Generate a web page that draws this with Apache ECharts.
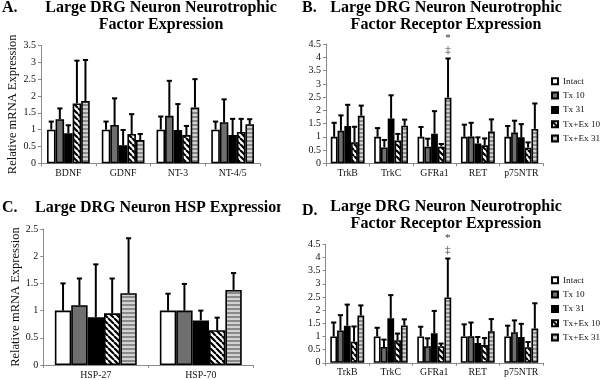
<!DOCTYPE html>
<html><head><meta charset="utf-8">
<script src="https://cdn.jsdelivr.net/npm/echarts@6/dist/echarts.min.js"></script>
<style>html,body{margin:0;padding:0;background:#fff}#c{width:600px;height:380px}</style>
</head><body><div id="c"></div>
<script>
// ---------- data ----------
const groups = ['Intact', 'Tx 10', 'Tx 31', 'Tx+Ex 10', 'Tx+Ex 31'];

// Panel A: neurotrophic factors
const catsA = ['BDNF', 'GDNF', 'NT-3', 'NT-4/5'];
const meanA_Intact = [1.0, 1.0, 1.0, 1.0];
const meanA_Tx10   = [1.31, 1.14, 1.41, 1.22];
const meanA_Tx31   = [0.89, 0.54, 0.99, 0.84];
const meanA_TxEx10 = [1.78, 0.87, 0.84, 0.93];
const meanA_TxEx31 = [1.85, 0.69, 1.66, 1.16];
const errA_Intact  = [1.24, 1.24, 1.39, 1.24];
const errA_Tx10    = [1.63, 1.93, 2.45, 1.90];
const errA_Tx31    = [1.13, 0.99, 1.76, 1.32];
const errA_TxEx10  = [3.05, 1.46, 1.11, 1.32];
const errA_TxEx31  = [3.07, 0.87, 2.50, 1.31];
const ticksA = {min: 0, max: 3.5, interval: 0.5};

// Panel B (and D, identical): receptors
const catsB = ['TrkB', 'TrkC', 'GFRa1', 'RET', 'p75NTR'];
const meanB_Intact = [1.0, 1.0, 1.0, 1.0, 1.0];
const meanB_Tx10   = [1.23, 0.60, 0.63, 1.01, 1.16];
const meanB_Tx31   = [1.41, 1.69, 1.12, 0.75, 0.98];
const meanB_TxEx10 = [0.80, 0.86, 0.63, 0.68, 0.59];
const meanB_TxEx31 = [1.80, 1.42, 2.48, 1.20, 1.30];
const errB_Intact  = [1.53, 1.33, 1.37, 1.46, 1.41];
const errB_Tx10    = [1.81, 0.88, 0.93, 1.53, 1.61];
const errB_Tx31    = [2.21, 2.57, 1.97, 0.98, 1.48];
const errB_TxEx10  = [1.38, 1.11, 0.73, 0.94, 0.79];
const errB_TxEx31  = [2.18, 1.65, 3.96, 1.66, 2.26];
const ticksB = {min: 0, max: 4.5, interval: 0.5};
const annotB = [{cat: 2, group: 4, text: '*\n‡'}];

// Panel C: HSP
const catsC = ['HSP-27', 'HSP-70'];
const meanC_Intact = [1.0, 1.0];
const meanC_Tx10   = [1.10, 1.00];
const meanC_Tx31   = [0.88, 0.82];
const meanC_TxEx10 = [0.95, 0.64];
const meanC_TxEx31 = [1.32, 1.38];
const errC_Intact  = [1.50, 1.31];
const errC_Tx10    = [1.59, 1.49];
const errC_Tx31    = [1.85, 1.00];
const errC_TxEx10  = [1.59, 0.87];
const errC_TxEx31  = [2.33, 1.69];
const ticksC = {min: 0, max: 2.5, interval: 0.5};

// ---------- styling ----------
const FONT = '"Liberation Serif","Times New Roman",serif';
function hatchPattern() {
  const c = document.createElement('canvas'); c.width = 6; c.height = 6;
  const g = c.getContext('2d');
  g.fillStyle = '#fff'; g.fillRect(0, 0, 6, 6);
  g.strokeStyle = '#000'; g.lineWidth = 2.2; g.beginPath();
  for (const o of [-6, 0, 6]) { g.moveTo(o, 0); g.lineTo(o + 6, 6); }
  g.stroke(); return c;
}
function stripePattern() {
  const c = document.createElement('canvas'); c.width = 4; c.height = 4;
  const g = c.getContext('2d');
  g.fillStyle = '#d2d2d2'; g.fillRect(0, 0, 4, 4);
  g.fillStyle = '#8a8a8a'; g.fillRect(0, 0, 4, 2);
  return c;
}
const fills = ['#ffffff', '#6f6f6f', '#000000',
  {image: hatchPattern(), repeat: 'repeat'},
  {image: stripePattern(), repeat: 'repeat'}];
const GAP = 0.22;

const panels = [
  {cats: catsA, means: [meanA_Intact, meanA_Tx10, meanA_Tx31, meanA_TxEx10, meanA_TxEx31],
   errs: [errA_Intact, errA_Tx10, errA_Tx31, errA_TxEx10, errA_TxEx31], ticks: ticksA,
   grid: {left: 41, top: 45.5, width: 219, height: 117.8}, yName: 'Relative mRNA Expression', nameGap: 18, annot: []},
  {cats: catsB, means: [meanB_Intact, meanB_Tx10, meanB_Tx31, meanB_TxEx10, meanB_TxEx31],
   errs: [errB_Intact, errB_Tx10, errB_Tx31, errB_TxEx10, errB_TxEx31], ticks: ticksB,
   grid: {left: 326, top: 44.2, width: 217, height: 119.1}, yName: '', annot: annotB},
  {cats: catsC, means: [meanC_Intact, meanC_Tx10, meanC_Tx31, meanC_TxEx10, meanC_TxEx31],
   errs: [errC_Intact, errC_Tx10, errC_Tx31, errC_TxEx10, errC_TxEx31], ticks: ticksC,
   grid: {left: 43.3, top: 229, width: 210, height: 137}, yName: 'Relative mRNA Expression', nameGap: 20, annot: []},
  {cats: catsB, means: [meanB_Intact, meanB_Tx10, meanB_Tx31, meanB_TxEx10, meanB_TxEx31],
   errs: [errB_Intact, errB_Tx10, errB_Tx31, errB_TxEx10, errB_TxEx31], ticks: ticksB,
   grid: {left: 325.5, top: 244.3, width: 217.5, height: 118.5}, yName: '', annot: annotB}
];

const grids = [], xAxes = [], yAxes = [], series = [];
const axisLine = {lineStyle: {color: '#8a8a8a', width: 1}};
panels.forEach((p, pi) => {
  grids.push(Object.assign({containLabel: false}, p.grid));
  xAxes.push({type: 'category', gridIndex: pi, data: p.cats,
    axisLine: axisLine, axisTick: {show: true, length: 3, lineStyle: {color: '#8a8a8a'}},
    axisLabel: {fontFamily: FONT, fontSize: 9.8, color: '#111', margin: 5, interval: 0}});
  yAxes.push({type: 'value', gridIndex: pi, min: p.ticks.min, max: p.ticks.max, interval: p.ticks.interval,
    name: p.yName, nameLocation: 'middle', nameGap: p.nameGap || 20,
    nameTextStyle: {fontFamily: FONT, fontSize: 12.5, color: '#111'},
    axisLine: Object.assign({show: true}, axisLine), axisTick: {show: true, length: 3, lineStyle: {color: '#8a8a8a'}},
    splitLine: {show: false},
    axisLabel: {fontFamily: FONT, fontSize: 10, color: '#111', margin: 5}});
  groups.forEach((gname, gi) => {
    series.push({type: 'bar', name: gname, xAxisIndex: pi, yAxisIndex: pi,
      data: p.means[gi], barGap: '0%', barCategoryGap: (GAP * 100) + '%',
      itemStyle: {color: fills[gi], borderColor: '#000', borderWidth: 1.6},
      emphasis: {disabled: true}, animation: false});
  });
  groups.forEach((gname, gi) => {
    const data = p.cats.map((c, ci) => [ci, p.means[gi][ci], p.errs[gi][ci]]);
    series.push({type: 'custom', name: 'err', xAxisIndex: pi, yAxisIndex: pi, silent: true, z: 5,
      animation: false, encode: {x: 0, y: [1, 2]}, data: data,
      renderItem: function (params, api) {
        const ci = api.value(0), v = api.value(1), e = api.value(2);
        const band = api.size([1, 0])[0];
        const bw = band * (1 - GAP) / 5;
        const xc = api.coord([ci, 0])[0] + (gi - 2) * bw;
        const y1 = api.coord([ci, v])[1], y2 = api.coord([ci, e])[1];
        const children = [
          {type: 'line', shape: {x1: xc, y1: y1, x2: xc, y2: y2}, style: {stroke: '#000', lineWidth: 2}},
          {type: 'line', shape: {x1: xc - 2.6, y1: y2, x2: xc + 2.6, y2: y2}, style: {stroke: '#000', lineWidth: 2}}
        ];
        p.annot.forEach(a => {
          if (a.cat === ci && a.group === gi) {
            children.push({type: 'text', x: xc, y: y2 - 2,
              style: {text: a.text, align: 'center', verticalAlign: 'bottom', font: '11px ' + FONT,
                lineHeight: 12, fill: '#333'}});
          }
        });
        return {type: 'group', children: children};
      }});
  });
});

const tFont = 'bold 16px ' + FONT;
function t(x, y, text, align) {
  return {type: 'text', x: x, y: y, z: 10,
    style: {text: text, font: tFont, fill: '#000', align: align || 'center', verticalAlign: 'middle'}};
}
const graphic = [
  t(2, 8, 'A.', 'left'), t(161, 7.5, 'Large DRG Neuron Neurotrophic'), t(161, 25, 'Factor Expression'),
  t(302, 7.5, 'B.', 'left'), t(446, 7.5, 'Large DRG Neuron Neurotrophic'), t(446, 24.5, 'Factor Receptor Expression'),
  t(2, 208, 'C.', 'left'), t(35, 208, 'Large DRG Neuron HSP Expression', 'left'),
  {type: 'rect', z: 11, shape: {x: 281, y: 196, width: 19, height: 24}, style: {fill: '#fff'}},
  t(302, 210.5, 'D.', 'left'), t(446, 206.5, 'Large DRG Neuron Neurotrophic'), t(446, 224, 'Factor Receptor Expression')
];

const legendBase = {orient: 'vertical', left: 551, itemWidth: 6, itemHeight: 6, itemGap: 2.3,
  icon: 'rect', data: groups, selectedMode: false, padding: 0,
  textStyle: {fontFamily: FONT, fontSize: 9.2, color: '#111', lineHeight: 12}};

const chart = echarts.init(document.getElementById('c'), null, {renderer: 'canvas'});
chart.setOption({
  animation: false,
  backgroundColor: '#fff',
  grid: grids, xAxis: xAxes, yAxis: yAxes, series: series,
  legend: [Object.assign({top: 75.3}, legendBase), Object.assign({top: 274.3}, legendBase)],
  graphic: graphic
});
</script></body></html>
